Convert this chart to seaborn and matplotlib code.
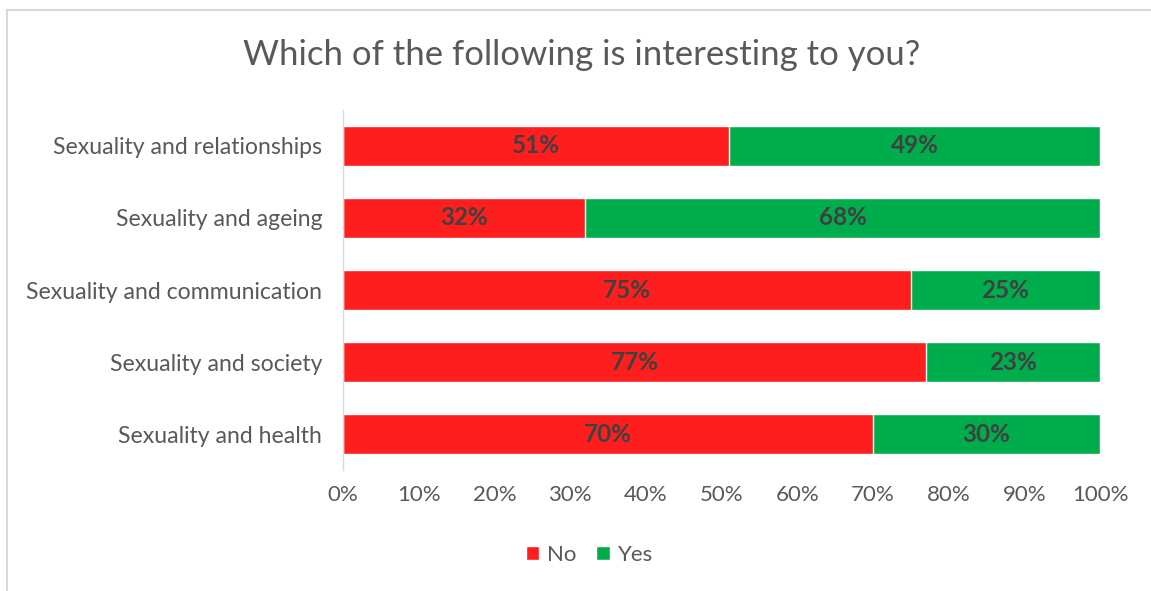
import matplotlib
matplotlib.use("Agg")
import matplotlib.pyplot as plt
from matplotlib.patches import Patch
import seaborn as sns
import pandas as pd

categories = [
    "Sexuality and relationships",
    "Sexuality and ageing",
    "Sexuality and communication",
    "Sexuality and society",
    "Sexuality and health",
]
no_values = [51, 32, 75, 77, 70]
yes_values = [49, 68, 25, 23, 30]
x_ticks = [0, 10, 20, 30, 40, 50, 60, 70, 80, 90, 100]
x_tick_labels = [f"{t}%" for t in x_ticks]

RED = "#FF1E1E"
GREEN = "#00AD4D"
TEXT = "#595959"
LABEL = "#404040"

sns.set_theme(style="white")
plt.rcParams["font.family"] = ["Lato", "DejaVu Sans"]

df = pd.DataFrame({"category": categories, "No": no_values, "Yes": yes_values})
df["Total"] = df["No"] + df["Yes"]

fig = plt.figure(figsize=(11.51, 5.91), dpi=100)
ax = fig.add_axes([0.298, 0.2047, 0.6577, 0.6092])

bar_w = 40 / 72
sns.barplot(data=df, x="Total", y="category", color=GREEN, orient="h",
            width=bar_w, saturation=1, ax=ax)
sns.barplot(data=df, x="No", y="category", color=RED, orient="h",
            width=bar_w, saturation=1, ax=ax)

for i, (n, y) in enumerate(zip(df["No"], df["Yes"])):
    ax.text(n / 2, i, f"{n}%", ha="center", va="center", fontsize=17.5,
            fontweight="bold", color=LABEL)
    ax.text(n + y / 2, i, f"{y}%", ha="center", va="center", fontsize=17.5,
            fontweight="bold", color=LABEL)

ax.set_xlim(0, 100)
ax.set_ylim(4.5, -0.5)
ax.set_xticks(x_ticks)
ax.set_xticklabels(x_tick_labels)
ax.set_xlabel("")
ax.set_ylabel("")
ax.tick_params(axis="x", length=0, labelsize=16, labelcolor=TEXT, pad=11)
ax.tick_params(axis="y", length=0, labelsize=16.6, labelcolor=TEXT, pad=15)
for side in ["top", "right", "bottom"]:
    ax.spines[side].set_visible(False)
ax.spines["left"].set_color("#D9D9D9")
ax.spines["left"].set_linewidth(1)
ax.grid(False)

fig.text(0.505, 0.907, "Which of the following is interesting to you?",
         ha="center", va="center", fontsize=25, color=TEXT)

handles = [Patch(facecolor=RED, label="No"), Patch(facecolor=GREEN, label="Yes")]
fig.legend(handles=handles, loc="center", bbox_to_anchor=(0.512, 0.061), ncol=2,
           frameon=False, fontsize=16, labelcolor=TEXT, handlelength=0.6,
           handleheight=0.6, handletextpad=0.35, columnspacing=0.9)

# chart frame
fig.add_artist(plt.Line2D([0.006, 1.0], [0.983, 0.983], color="#D9D9D9",
                          lw=1.5, transform=fig.transFigure))
fig.add_artist(plt.Line2D([0.0065, 0.0065], [0.0, 0.983], color="#D9D9D9",
                          lw=1.5, transform=fig.transFigure))

fig.savefig("out.png", dpi=100, facecolor="white")
